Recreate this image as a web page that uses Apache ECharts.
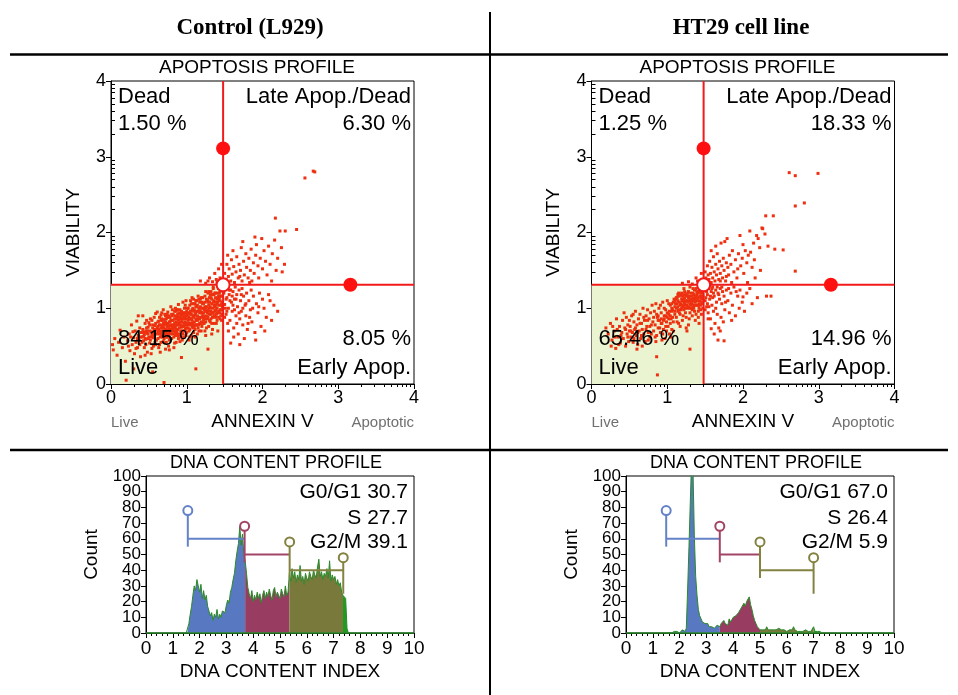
<!DOCTYPE html>
<html><head><meta charset="utf-8">
<script src="https://cdn.jsdelivr.net/npm/echarts@6/dist/echarts.min.js"></script>
<style>html,body{margin:0;padding:0;background:#fff}#chart{width:958px;height:695px}</style>
</head><body><div id="chart"></div>
<script>
// ---------------- data ----------------
const panelTitles = ['Control (L929)', 'HT29 cell line'];
const scatterTicks = [0, 1, 2, 3, 4];
const dnaTicks = [0, 1, 2, 3, 4, 5, 6, 7, 8, 9, 10];
const countTicks = [0, 10, 20, 30, 40, 50, 60, 70, 80, 90, 100];

const quadrantNames = ['Dead', 'Late Apop./Dead', 'Live', 'Early Apop.'];
const controlQuadrantPct = [1.50, 6.30, 84.15, 8.05];
const ht29QuadrantPct = [1.25, 18.33, 65.46, 14.96];
const quadrantGate = [1.48, 1.31];      // [annexin, viability]
const gateHandles = [3.11, 3.16];       // [viability of handle on vertical, annexin of handle on horizontal]

const phaseNames = ['G0/G1', 'S', 'G2/M'];
const controlPhasePct = [30.7, 27.7, 39.1];
const ht29PhasePct = [67.0, 26.4, 5.9];
const controlDnaGates = [1.56, 3.68, 5.36, 7.36];
const ht29DnaGates = [1.50, 3.50, 5.00, 7.00];
const gateMarkerCounts = [78, 68, 58, 48];
const gateStemBottoms = [55, 45, 35, 25];
const gateBarCounts = [60, 50, 40];

const dnaBinStart = 1.5, dnaBinWidth = 0.05;
const controlDnaCounts = [
  0,1,6,12,17,24,30,27,34,30,
  26,31,22,27,21,24,17,14,11,13,
  8,12,10,15,9,12,10,14,15,13,
  18,21,19,26,29,34,38,46,52,57,
  68,56,63,50,46,38,29,25,22,27,
  20,24,21,26,22,25,19,24,27,22,
  26,23,28,24,21,27,29,23,26,24,
  22,28,25,23,30,24,26,38,33,41,
  35,39,32,37,34,43,33,36,31,38,
  35,33,39,36,34,40,37,35,42,47,
  36,39,34,38,36,41,35,46,33,37,
  34,36,31,34,30,32,26,24,25,22,
  3,0
];
const ht29DnaCounts = [
  0,0,0,1,0,1,1,0,1,1,
  0,1,2,1,1,3,28,55,84,112,
  104,62,36,24,15,11,9,7,8,6,
  5,6,4,5,4,5,3,4,5,6,
  4,6,5,8,6,7,5,9,7,8,
  10,9,11,10,13,12,16,15,19,17,
  20,19,23,18,15,11,8,6,4,3,
  2,3,2,3,2,4,2,3,2,3,
  2,3,2,2,3,2,2,3,2,2,
  1,2,2,3,2,4,2,2,1,2,
  1,2,1,1,2,1,1,1,1,2,
  4,1,1,1,1,1,0
];

// [annexin, viability] events
const controlEvents = [
 [0.02,0.52],[0.03,0.45],[0.05,0.60],[0.08,0.38],[0.10,0.55],[0.12,0.71],[0.15,0.48],[0.17,0.62],[0.19,0.30],[0.20,0.05],
 [0.22,0.57],[0.24,0.66],[0.25,0.44],[0.27,0.78],[0.28,0.52],[0.30,0.61],[0.31,0.40],[0.32,0.70],[0.33,0.55],[0.34,0.83],[0.35,0.48],[0.36,0.64],[0.37,0.58],[0.38,0.74],[0.39,0.36],[0.40,0.68],[0.26,0.62],[0.29,0.69],[0.33,0.47],[0.36,0.90],[0.38,0.52],[0.23,0.50],[0.30,0.20],[0.35,0.60],[0.39,0.62],
 [0.41,0.55],[0.42,0.72],[0.43,0.63],[0.44,0.48],[0.45,0.80],[0.46,0.59],[0.47,0.67],[0.48,0.42],[0.49,0.75],[0.50,0.62],[0.51,0.54],[0.52,0.86],[0.53,0.69],[0.54,0.47],[0.55,0.78],[0.56,0.61],[0.57,0.72],[0.58,0.55],[0.59,0.93],[0.60,0.66],[0.42,0.90],[0.44,0.65],[0.46,0.52],[0.48,0.70],[0.50,0.81],[0.52,0.58],[0.54,0.64],[0.56,0.50],[0.58,0.77],[0.60,0.58],[0.45,0.38],[0.47,0.84],[0.51,0.70],[0.53,0.40],[0.55,0.68],[0.57,0.88],[0.59,0.52],[0.43,0.57],[0.49,0.60],[0.55,0.16],
 [0.61,0.74],[0.62,0.60],[0.63,0.83],[0.64,0.52],[0.65,0.70],[0.66,0.91],[0.67,0.64],[0.68,0.77],[0.69,0.56],[0.70,0.85],[0.71,0.68],[0.72,0.46],[0.73,0.79],[0.74,0.62],[0.75,0.95],[0.76,0.72],[0.77,0.58],[0.78,0.88],[0.79,0.66],[0.80,0.76],[0.61,0.95],[0.62,0.68],[0.63,0.48],[0.64,0.78],[0.65,0.62],[0.66,0.55],[0.67,0.86],[0.68,0.70],[0.69,0.98],[0.70,0.60],[0.71,0.80],[0.72,0.72],[0.73,0.55],[0.74,0.88],[0.75,0.66],[0.76,0.50],[0.77,0.82],[0.78,0.70],[0.79,1.02],[0.80,0.60],[0.62,0.76],[0.64,0.66],[0.66,0.74],[0.68,0.62],[0.70,0.74],[0.72,0.90],[0.74,0.76],[0.76,0.64],[0.78,0.78],[0.80,0.92],[0.65,0.42],[0.70,0.02],[0.73,0.68],[0.77,0.45],[0.79,0.72],
 [0.81,0.70],[0.82,0.84],[0.83,0.62],[0.84,0.96],[0.85,0.76],[0.86,0.55],[0.87,0.88],[0.88,0.72],[0.89,1.05],[0.90,0.80],[0.91,0.65],[0.92,0.93],[0.93,0.75],[0.94,0.58],[0.95,0.86],[0.96,0.70],[0.97,1.00],[0.98,0.82],[0.99,0.64],[1.00,0.90],[0.81,0.90],[0.82,0.66],[0.83,0.78],[0.84,0.54],[0.85,1.00],[0.86,0.82],[0.87,0.68],[0.88,0.92],[0.89,0.60],[0.90,0.74],[0.91,0.98],[0.92,0.78],[0.93,0.86],[0.94,0.70],[0.95,1.08],[0.96,0.62],[0.97,0.78],[0.98,0.94],[0.99,0.74],[1.00,0.68],[0.82,0.76],[0.84,0.86],[0.86,0.72],[0.88,0.80],[0.90,0.88],[0.92,0.70],[0.94,0.82],[0.96,0.92],[0.98,0.72],[1.00,0.80],[0.83,0.48],[0.87,0.98],[0.91,0.56],[0.95,0.66],[0.99,1.10],[0.93,0.35],[0.97,0.88],[0.85,0.64],[0.89,0.84],[0.94,0.94],
 [1.01,0.78],[1.02,0.94],[1.03,0.70],[1.04,1.04],[1.05,0.86],[1.06,0.64],[1.07,0.98],[1.08,0.80],[1.09,1.12],[1.10,0.90],[1.11,0.72],[1.12,1.02],[1.13,0.84],[1.14,0.66],[1.15,0.96],[1.16,0.78],[1.17,1.08],[1.18,0.88],[1.19,0.70],[1.20,1.00],[1.01,1.00],[1.02,0.74],[1.03,0.88],[1.04,0.62],[1.05,1.10],[1.06,0.92],[1.07,0.76],[1.08,1.00],[1.09,0.68],[1.10,0.82],[1.11,1.06],[1.12,0.86],[1.13,0.96],[1.14,0.78],[1.15,1.16],[1.16,0.70],[1.17,0.86],[1.18,1.02],[1.19,0.82],[1.20,0.76],[1.02,0.84],[1.04,0.94],[1.06,0.80],[1.08,0.90],[1.10,0.98],[1.12,0.78],[1.14,0.90],[1.16,1.00],[1.18,0.80],[1.20,0.88],[1.03,0.58],[1.07,1.14],[1.11,0.62],[1.15,0.74],[1.19,1.14],[1.05,0.96],[1.09,0.88],[1.13,1.10],[1.17,0.94],[1.28,0.46],
 [1.21,0.90],[1.22,1.06],[1.23,0.80],[1.24,1.16],[1.25,0.96],[1.26,0.74],[1.27,1.10],[1.28,0.88],[1.29,1.22],[1.30,1.00],[1.31,0.82],[1.32,1.14],[1.33,0.94],[1.34,0.72],[1.35,1.08],[1.36,0.90],[1.37,1.20],[1.38,0.98],[1.39,0.80],[1.40,1.12],[1.41,0.94],[1.42,1.26],[1.43,1.04],[1.44,0.86],[1.45,1.16],[1.46,0.98],[1.47,1.08],[1.21,1.14],[1.22,0.84],[1.23,0.98],[1.24,0.70],[1.25,1.22],[1.26,1.02],[1.27,0.86],[1.28,1.08],[1.29,0.76],[1.30,0.92],[1.31,1.18],[1.32,0.96],[1.33,1.06],[1.34,0.88],[1.35,1.26],[1.36,0.80],[1.37,0.96],[1.38,1.14],[1.39,0.92],[1.40,0.84],[1.41,1.20],[1.42,0.96],[1.43,1.14],[1.44,0.98],[1.45,0.90],[1.46,1.24],[1.47,0.92],[1.22,0.94],[1.24,1.02],[1.26,0.90],[1.28,0.98],[1.30,1.08],[1.32,0.86],[1.34,1.00],[1.36,1.10],[1.38,0.88],[1.40,1.00],[1.42,1.10],[1.44,1.22],[1.46,0.84],[1.25,0.64],[1.33,0.66],[1.41,0.70],[1.47,1.28],[1.35,1.28],[1.12,0.20],
 [1.18,1.36],[1.25,1.33],[1.30,1.40],[1.34,1.35],[1.37,1.46],[1.40,1.34],[1.42,1.52],[1.44,1.40],[1.46,1.58],[1.45,1.36],[1.39,1.38],[1.28,1.36],
 [1.49,1.20],[1.50,1.05],[1.51,1.26],[1.52,0.92],[1.53,1.14],[1.54,1.28],[1.55,1.00],[1.56,1.18],[1.57,0.84],[1.58,1.24],[1.59,1.08],[1.60,0.96],[1.61,1.22],[1.62,0.74],[1.63,1.12],[1.64,1.28],[1.65,0.90],[1.66,1.18],[1.67,1.02],[1.68,0.66],[1.69,1.24],[1.70,0.86],[1.71,1.10],[1.72,0.96],[1.73,1.26],[1.74,0.78],[1.75,1.16],[1.76,0.60],[1.77,1.04],[1.78,0.90],[1.79,1.20],[1.80,0.72],[1.82,1.10],[1.84,0.98],[1.85,1.24],[1.86,0.82],[1.88,1.16],[1.90,0.68],[1.92,1.06],[1.94,0.94],[1.96,1.20],[1.98,0.76],[2.00,1.12],[2.02,1.00],[2.05,0.88],[2.08,1.18],[2.12,0.84],[2.15,1.04],[2.20,0.96],[1.55,0.70],[1.58,0.54],[1.62,0.62],[1.70,0.52],[1.50,0.88],[1.52,1.12],[1.54,0.80],[1.56,1.24],[1.60,1.16],[1.63,0.98],[1.66,0.80],[1.72,1.18],[1.78,1.06],[1.83,0.88],[1.87,1.00],[1.91,0.58],[1.95,1.02],[2.03,0.70],[2.10,1.10],[1.51,1.00],[1.53,0.96],[1.57,1.10],[1.61,1.04],[1.65,1.12],[1.69,0.94],[1.74,1.00],[1.81,0.80],
 [1.49,1.34],[1.50,1.46],[1.52,1.38],[1.53,1.58],[1.55,1.42],[1.56,1.52],[1.58,1.36],[1.59,1.64],[1.60,1.45],[1.62,1.55],[1.63,1.34],[1.65,1.48],[1.66,1.68],[1.68,1.40],[1.69,1.58],[1.71,1.50],[1.72,1.80],[1.73,1.36],[1.75,1.62],[1.76,1.44],[1.78,1.72],[1.79,1.54],[1.81,1.40],[1.82,1.66],[1.84,1.50],[1.85,1.78],[1.86,1.36],[1.88,1.60],[1.89,1.46],[1.91,1.70],[1.92,1.84],[1.94,1.56],[1.95,1.40],[1.97,1.66],[1.99,1.92],[2.00,1.52],[2.02,1.76],[2.04,1.62],[2.06,1.44],[2.08,1.82],[2.10,1.58],[2.13,1.72],[2.16,1.90],[2.18,1.50],[2.20,1.66],[2.23,2.02],[2.25,1.80],[2.30,2.02],[2.17,2.19],[2.45,2.04],[2.29,1.58],[2.56,2.72],[2.67,2.81],[2.69,2.80],[1.54,1.70],[1.61,1.76],[1.70,1.42],[1.74,1.88],[1.83,1.34],[1.90,1.94],[2.12,1.36],[2.26,1.48]
];
const controlDenseEvents = [
 [0.62,0.82],[0.63,0.72],[0.64,0.88],[0.65,0.78],[0.66,0.68],[0.67,0.94],[0.68,0.84],[0.69,0.74],[0.70,0.66],[0.71,0.92],
 [0.72,0.82],[0.73,0.62],[0.74,0.70],[0.75,0.80],[0.76,0.90],[0.77,0.68],[0.78,0.60],[0.79,0.84],[0.80,0.70],[0.81,0.98],
 [0.82,0.92],[0.83,0.70],[0.84,0.80],[0.85,0.68],[0.86,0.96],[0.87,0.78],[0.88,0.64],[0.89,0.92],[0.90,0.66],[0.91,0.86],
 [0.92,0.62],[0.93,0.96],[0.94,0.76],[0.95,0.92],[0.96,0.80],[0.97,0.70],[0.98,1.04],[0.99,0.90],[1.00,0.74],[1.01,0.86],
 [1.02,1.00],[1.03,0.80],[1.04,0.72],[1.05,0.92],[1.06,1.06],[1.07,0.84],[1.08,0.74],[1.09,0.96],[1.10,0.76],[1.11,0.92],
 [1.12,1.10],[1.13,0.78],[1.14,1.04],[1.15,0.86],[1.16,0.88],[1.17,0.80],[1.18,1.12],[1.19,0.94],[1.20,1.08],[1.21,0.80],
 [1.22,1.00],[1.23,0.88],[1.24,1.08],[1.25,0.82],[1.26,1.12],[1.27,0.94],[1.28,1.20],[1.29,0.96],[1.30,0.84],[1.31,1.02],
 [1.32,1.22],[1.33,0.80],[1.34,1.18],[1.35,0.94],[1.36,1.04],[1.37,0.90],[1.38,1.20],[1.39,1.04],[1.40,0.94],[1.41,1.08],
 [1.42,0.88],[1.43,1.20],[1.44,1.10],[1.45,1.04],[1.46,1.16],[1.47,1.02],[0.66,0.84],[0.70,0.78],[0.74,0.92],[0.78,0.82],
 [0.82,0.72],[0.86,0.86],[0.90,0.94],[0.94,0.86],[0.98,0.86],[1.02,0.80],[1.06,0.86],[1.10,1.06],[1.14,0.84],[1.18,0.96],
 [1.22,0.90],[1.26,0.96],[1.30,1.14],[1.34,0.94],[1.38,1.08],[1.42,1.16],[1.46,1.06],[0.72,0.64],[0.76,0.76],[0.80,0.84],
 [0.84,0.74],[0.88,0.98],[0.92,0.82],[0.96,0.76],[1.00,0.96],[1.04,0.86],[1.08,1.06],[1.12,0.94],[1.16,1.12],[1.20,0.94],
 [1.24,0.86],[1.28,1.10],[1.32,0.92],[1.36,1.18],[1.40,1.06],[1.44,0.94],[0.55,0.74],[0.57,0.64],[0.59,0.80],[0.53,0.62],
 [0.51,0.78],[0.49,0.66],[0.47,0.74],[0.45,0.60],[0.43,0.68],[0.41,0.62],[0.58,0.68],[0.54,0.84],[0.46,0.70],[0.60,0.72],
 [1.09,0.78],[1.13,1.02],[1.17,1.00],[1.21,1.06],[1.25,1.00],[1.29,1.04],[1.33,1.12],[1.37,1.02],[1.41,1.14],[1.45,0.98],
 [0.97,0.94],[1.01,0.92],[1.05,0.78],[0.93,0.90],[0.89,0.78],[0.85,0.90],[0.81,0.78],[0.77,0.88],[0.73,0.86],[0.69,0.80]
];

const ht29Events = [
 [0.19,0.74],[0.22,0.66],[0.25,0.80],[0.27,0.58],[0.30,0.70],[0.32,0.47],[0.33,0.86],[0.35,0.62],[0.37,0.76],[0.38,0.54],[0.40,0.68],[0.41,0.84],[0.42,0.60],[0.44,0.74],[0.45,0.50],[0.46,0.88],[0.47,0.66],[0.48,0.78],[0.49,0.56],[0.50,0.70],[0.28,0.76],[0.34,0.72],[0.36,0.52],[0.39,0.64],[0.43,0.94],[0.45,0.72],[0.48,0.62],[0.50,0.84],[0.31,0.62],[0.26,0.50],
 [0.51,0.76],[0.52,0.62],[0.53,0.90],[0.54,0.68],[0.55,0.55],[0.56,0.82],[0.57,0.72],[0.58,0.96],[0.59,0.64],[0.60,0.78],[0.61,0.52],[0.62,0.86],[0.63,0.70],[0.64,0.92],[0.65,0.60],[0.66,0.80],[0.67,0.72],[0.68,1.00],[0.69,0.66],[0.70,0.84],[0.71,0.56],[0.72,0.90],[0.73,0.76],[0.74,0.98],[0.75,0.68],[0.76,0.86],[0.77,0.62],[0.78,0.94],[0.79,0.78],[0.80,1.04],[0.52,0.70],[0.55,0.92],[0.58,0.74],[0.61,0.68],[0.64,0.80],[0.66,0.64],[0.69,0.88],[0.72,0.72],[0.74,0.84],[0.77,0.76],[0.79,0.66],[0.60,0.46],[0.67,0.50],[0.75,0.58],[0.56,0.60],
 [0.81,0.82],[0.82,0.70],[0.83,0.96],[0.84,0.78],[0.85,1.06],[0.86,0.64],[0.86,0.36],[0.87,0.88],[0.87,0.12],[0.88,0.74],[0.89,1.00],[0.90,0.84],[0.91,0.68],[0.92,0.94],[0.93,0.80],[0.94,1.08],[0.95,0.72],[0.96,0.90],[0.97,0.60],[0.98,0.98],[0.99,0.82],[1.00,1.10],[1.01,0.76],[1.02,0.92],[1.03,0.66],[1.04,1.04],[1.05,0.86],[1.06,0.72],[1.07,0.98],[1.08,0.82],[1.09,1.12],[1.10,0.92],[0.82,0.88],[0.84,0.62],[0.86,0.92],[0.88,0.84],[0.90,0.74],[0.92,0.86],[0.94,0.66],[0.96,1.00],[0.98,0.76],[1.00,0.88],[1.02,1.06],[1.04,0.80],[1.06,0.96],[1.08,0.70],[1.10,1.02],[0.85,0.56],[0.91,1.04],[0.95,0.84],[0.99,0.70],[1.03,0.96],[1.07,0.88],[1.05,0.62],[0.93,0.58],
 [1.11,1.06],[1.12,0.88],[1.13,1.14],[1.14,0.96],[1.15,0.80],[1.16,1.08],[1.17,0.92],[1.18,1.18],[1.19,1.00],[1.20,0.84],[1.21,1.12],[1.22,0.98],[1.23,1.22],[1.24,1.04],[1.25,0.88],[1.26,1.16],[1.27,1.00],[1.28,0.78],[1.29,1.10],[1.30,0.94],[1.31,1.20],[1.32,1.06],[1.33,0.90],[1.34,1.14],[1.35,1.00],[1.36,1.24],[1.37,1.08],[1.38,0.92],[1.39,1.18],[1.40,1.04],[1.41,0.96],[1.42,1.22],[1.43,1.10],[1.44,0.98],[1.45,1.16],[1.46,1.06],[1.47,1.26],[1.12,1.00],[1.14,1.10],[1.16,0.94],[1.18,1.06],[1.20,1.16],[1.22,1.08],[1.24,0.94],[1.26,1.04],[1.28,1.14],[1.30,1.06],[1.32,1.16],[1.34,1.02],[1.36,1.12],[1.38,1.04],[1.40,1.14],[1.42,1.06],[1.44,1.20],[1.46,1.12],[1.13,0.82],[1.17,0.76],[1.21,0.90],[1.25,0.74],[1.29,0.86],[1.33,0.98],[1.37,0.84],[1.41,0.88],[1.45,0.92],[1.47,1.00],[1.15,1.20],[1.19,1.12],[1.23,1.14],[1.27,1.20],[1.31,1.12],[1.35,1.18],[1.39,1.10],[1.43,1.24],[1.46,1.20],[1.20,1.04],[1.24,1.10],[1.28,1.02],[1.32,1.00],[1.36,0.96],[1.40,1.20],[1.44,1.04],[1.22,1.26],[1.30,1.28],[1.38,1.26],[1.34,1.26],[1.26,0.70],[1.30,0.46],[1.42,0.80],
 [1.20,1.33],[1.28,1.35],[1.33,1.32],[1.38,1.40],[1.42,1.34],[1.45,1.46],[1.46,1.38],[1.40,1.36],
 [1.49,1.24],[1.50,1.10],[1.51,1.28],[1.52,1.02],[1.53,1.18],[1.54,0.94],[1.55,1.26],[1.56,1.12],[1.57,0.86],[1.58,1.22],[1.59,1.04],[1.60,1.28],[1.61,0.96],[1.62,1.16],[1.63,0.80],[1.64,1.24],[1.65,1.08],[1.66,0.92],[1.67,1.20],[1.68,0.74],[1.69,1.12],[1.70,1.26],[1.71,0.88],[1.72,1.06],[1.73,1.22],[1.74,0.82],[1.75,1.16],[1.76,0.98],[1.78,1.24],[1.80,1.10],[1.82,0.94],[1.84,1.20],[1.86,1.04],[1.88,1.28],[1.90,0.90],[1.93,1.16],[1.96,1.24],[1.99,1.08],[2.00,1.15],[2.05,1.20],[2.09,1.26],[2.19,1.14],[2.31,1.16],[1.58,0.73],[1.67,0.58],[1.75,0.57],[1.62,0.66],[1.70,0.70],[1.54,0.86],[1.50,0.98],[1.52,1.22],[1.56,1.30],[1.60,1.14],[1.64,1.00],[1.68,1.18],[1.72,1.28],[1.77,1.08],[1.81,1.26],[1.85,0.84],[1.91,1.22],[1.95,1.00],[2.02,0.96],[2.12,1.06],[1.53,1.06],[1.57,1.16],[1.61,1.20],[1.66,1.28],[1.51,1.14],[1.55,1.02],[1.59,1.26],[2.37,1.16],
 [1.49,1.36],[1.50,1.48],[1.51,1.40],[1.52,1.34],[1.53,1.56],[1.54,1.44],[1.55,1.38],[1.56,1.62],[1.57,1.46],[1.58,1.34],[1.59,1.54],[1.60,1.40],[1.61,1.68],[1.62,1.48],[1.63,1.36],[1.64,1.58],[1.65,1.44],[1.66,1.72],[1.67,1.52],[1.68,1.38],[1.69,1.62],[1.70,1.46],[1.71,1.86],[1.72,1.56],[1.73,1.40],[1.74,1.66],[1.75,1.50],[1.76,1.88],[1.77,1.36],[1.78,1.60],[1.79,1.92],[1.80,1.54],[1.81,1.44],[1.82,1.70],[1.84,1.58],[1.86,1.76],[1.88,1.48],[1.90,1.64],[1.92,1.40],[1.94,1.72],[1.96,1.96],[1.97,1.56],[1.99,1.66],[2.01,1.46],[2.03,1.76],[2.05,1.60],[2.07,1.70],[2.09,2.02],[2.10,1.74],[2.12,1.54],[2.14,1.86],[2.16,1.40],[2.18,1.96],[2.20,1.92],[2.22,1.80],[2.25,2.06],[2.29,1.98],[2.33,1.82],[2.40,2.22],[2.42,1.78],[2.30,2.22],[2.53,1.77],[2.61,2.79],[2.69,2.75],[2.69,2.35],[2.69,1.49],[2.81,2.39],[2.99,2.78],[2.26,2.05],[1.85,1.34],[1.93,1.52],[2.00,1.84],[2.06,1.34],[2.15,1.64],[2.23,1.50],[1.58,1.76],[1.64,1.82],[1.70,1.36],[1.78,1.42]
];
const ht29DenseEvents = [
 [1.06,1.00],[1.08,1.08],[1.10,0.96],[1.12,1.14],[1.14,1.02],[1.16,1.16],[1.18,0.98],[1.20,1.10],[1.22,1.18],[1.24,1.00],
 [1.26,1.10],[1.28,1.22],[1.30,1.00],[1.32,1.10],[1.34,1.20],[1.36,1.04],[1.38,1.16],[1.40,1.10],[1.42,1.00],[1.44,1.14],
 [1.46,1.24],[1.13,1.06],[1.17,1.04],[1.21,1.02],[1.25,1.18],[1.29,1.16],[1.33,1.06],[1.37,1.14],[1.41,1.04],[1.45,1.08],
 [1.47,1.16],[1.11,1.12],[1.15,0.98],[1.19,1.20],[1.23,1.06],[1.27,1.08],[1.31,1.04],[1.35,1.10],[1.39,1.22],[1.43,1.16],
 [0.96,0.86],[1.00,0.94],[1.04,0.90],[0.92,0.80],[0.88,0.90],[1.02,0.86],[0.98,0.90],[1.06,1.06],[1.10,1.10],[1.14,1.18]
];

// ---------------- layout / style ----------------
const FONT = "'Liberation Sans', Arial, Helvetica, sans-serif";
const BLACK = '#000';
const RED = '#f21a1a';
const DOT = '#ee3010';
const LIVE_FILL = '#ebf4d0';
const scatterGrids = [
  { left: 111, top: 81, width: 303, height: 303 },
  { left: 591.5, top: 81, width: 303, height: 303 }
];
const histGrids = [
  { left: 146, top: 476, width: 268, height: 157 },
  { left: 626, top: 476, width: 268, height: 157 }
];
const gateColors = ['#6482c8', '#a24466', '#838241', '#838241'];
const phaseFills = ['#5878c2', '#983d61', '#7a793c', '#1f9b1f'];
const histLine = '#2a8a2a';

const logMinor = [];
for (let d = scatterTicks[0]; d < scatterTicks[scatterTicks.length - 1]; d++) {
  for (let k = 2; k <= 9; k++) logMinor.push(d + Math.log10(k));
}

// ---------------- axes ----------------
const xAxes = [], yAxes = [];
const gridsOpt = [];
scatterGrids.concat(histGrids).forEach(g => gridsOpt.push(Object.assign({
  show: true, borderColor: BLACK, borderWidth: 1, containLabel: false
}, g)));

const baseAxis = {
  type: 'value',
  axisLine: { show: true, onZero: false, lineStyle: { color: BLACK, width: 1 } },
  axisTick: { show: true, length: 5, lineStyle: { color: BLACK, width: 1 } },
  splitLine: { show: false },
  nameLocation: 'middle',
  nameTextStyle: { fontSize: 19, color: BLACK, fontFamily: FONT }
};

scatterGrids.forEach((g, i) => {
  xAxes.push(Object.assign({}, baseAxis, {
    gridIndex: i, position: 'bottom', min: scatterTicks[0], max: scatterTicks[scatterTicks.length - 1], interval: 1,
    name: 'ANNEXIN V', nameGap: 28,
    axisLabel: { fontSize: 18, color: BLACK, margin: 5, fontFamily: FONT, showMinLabel: true, showMaxLabel: true, hideOverlap: false }
  }));
  xAxes.push({
    gridIndex: i, type: 'value', position: 'bottom', min: scatterTicks[0], max: scatterTicks[scatterTicks.length - 1],
    axisLine: { show: false, onZero: false }, axisLabel: { show: false }, splitLine: { show: false },
    axisTick: { show: true, length: 3, customValues: logMinor, lineStyle: { color: BLACK } }
  });
  yAxes.push(Object.assign({}, baseAxis, {
    gridIndex: i, position: 'left', min: scatterTicks[0], max: scatterTicks[scatterTicks.length - 1], interval: 1,
    name: 'VIABILITY', nameGap: 28,
    axisLabel: { fontSize: 18, color: BLACK, margin: 5, fontFamily: FONT, showMinLabel: true, showMaxLabel: true, hideOverlap: false }
  }));
  yAxes.push({
    gridIndex: i, type: 'value', position: 'left', min: scatterTicks[0], max: scatterTicks[scatterTicks.length - 1],
    axisLine: { show: false, onZero: false }, axisLabel: { show: false }, splitLine: { show: false },
    axisTick: { show: true, inside: true, length: 4, customValues: logMinor, lineStyle: { color: BLACK } }
  });
});
const countLabelsEven = countTicks.filter((v, k) => k % 2 === 0);
const countLabelsOdd = countTicks.filter((v, k) => k % 2 === 1);
const histYIndex = [];
histGrids.forEach((g, i) => {
  xAxes.push(Object.assign({}, baseAxis, {
    gridIndex: 2 + i, position: 'bottom', min: dnaTicks[0], max: dnaTicks[dnaTicks.length - 1], interval: 1,
    name: 'DNA CONTENT INDEX', nameGap: 29,
    minorTick: { show: true, splitNumber: 5, length: 3, lineStyle: { color: BLACK } },
    axisLabel: { fontSize: 19, color: BLACK, margin: 6, fontFamily: FONT, showMinLabel: true, showMaxLabel: true, hideOverlap: false }
  }));
  histYIndex.push(yAxes.length);
  yAxes.push(Object.assign({}, baseAxis, {
    gridIndex: 2 + i, position: 'left', min: countTicks[0], max: countTicks[countTicks.length - 1], interval: 10,
    name: 'Count', nameGap: 45,
    axisLabel: { show: false }
  }));
  [countLabelsEven, countLabelsOdd].forEach(vals => {
    yAxes.push({
      gridIndex: 2 + i, type: 'value', position: 'left', min: countTicks[0], max: countTicks[countTicks.length - 1],
      axisLine: { show: false, onZero: false }, axisTick: { show: false }, splitLine: { show: false },
      axisLabel: { show: true, customValues: vals, fontSize: 17, color: BLACK, margin: 5, fontFamily: FONT,
        showMinLabel: true, showMaxLabel: true, hideOverlap: false }
    });
  });
});

// ---------------- series ----------------
const series = [];
[controlEvents.concat(controlDenseEvents), ht29Events.concat(ht29DenseEvents)].forEach((events, i) => {
  const xi = i * 2, yi = i * 2;
  const [qx, qy] = quadrantGate;
  series.push({ type: 'line', xAxisIndex: xi, yAxisIndex: yi, data: [[0, qy], [qx, qy]], symbol: 'none',
    lineStyle: { width: 0 }, areaStyle: { color: LIVE_FILL, opacity: 1 }, z: 1, silent: true });
  series.push({ type: 'scatter', xAxisIndex: xi, yAxisIndex: yi, data: events, symbol: 'rect', symbolSize: 3,
    itemStyle: { color: DOT, opacity: 1 }, z: 2, silent: true, large: false });
  series.push({ type: 'line', xAxisIndex: xi, yAxisIndex: yi, data: [[qx, scatterTicks[0]], [qx, scatterTicks[4]]],
    symbol: 'none', lineStyle: { color: RED, width: 2 }, z: 3, silent: true });
  series.push({ type: 'line', xAxisIndex: xi, yAxisIndex: yi, data: [[scatterTicks[0], qy], [scatterTicks[4], qy]],
    symbol: 'none', lineStyle: { color: RED, width: 2 }, z: 3, silent: true });
  series.push({ type: 'scatter', xAxisIndex: xi, yAxisIndex: yi, data: [[qx, gateHandles[0]], [gateHandles[1], qy]],
    symbol: 'circle', symbolSize: 14, itemStyle: { color: '#ff1010', opacity: 1 }, z: 4, silent: true });
  series.push({ type: 'scatter', xAxisIndex: xi, yAxisIndex: yi, data: [[qx, qy]],
    symbol: 'circle', symbolSize: 13, itemStyle: { color: '#fff', borderColor: RED, borderWidth: 2, opacity: 1 }, z: 5, silent: true });
});

[[controlDnaCounts, controlDnaGates], [ht29DnaCounts, ht29DnaGates]].forEach(([counts, gates], i) => {
  const xi = 4 + i, yi = histYIndex[i];
  const pts = counts.map((c, k) => [+(dnaBinStart + k * dnaBinWidth).toFixed(3), c]);
  const gateIdx = gates.map(g => Math.round((g - dnaBinStart) / dnaBinWidth));
  const bounds = [0].concat(gateIdx).concat([pts.length - 1]);
  const fills = [phaseFills[3]].concat(phaseFills);
  for (let s = 0; s < bounds.length - 1; s++) {
    const seg = pts.slice(bounds[s], bounds[s + 1] + 1);
    if (seg.length < 2) continue;
    series.push({ type: 'line', xAxisIndex: xi, yAxisIndex: yi, data: seg, symbol: 'none',
      lineStyle: { width: 0 }, areaStyle: { color: fills[s], opacity: 1 }, z: 2, silent: true });
  }
  series.push({ type: 'line', xAxisIndex: xi, yAxisIndex: yi, data: pts, symbol: 'none',
    lineStyle: { color: histLine, width: 1 }, z: 3, silent: true,
    markLine: { silent: true, symbol: 'none', label: { show: false },
      lineStyle: { color: histLine, width: 1.5, type: 'solid' }, data: [{ yAxis: 0 }] } });
  gates.forEach((g, k) => {
    series.push({ type: 'line', xAxisIndex: xi, yAxisIndex: yi, data: [[g, gateStemBottoms[k]], [g, gateMarkerCounts[k]]],
      symbol: 'none', lineStyle: { color: gateColors[k], width: 2 }, z: 5, silent: true });
    if (k < gates.length - 1) {
      series.push({ type: 'line', xAxisIndex: xi, yAxisIndex: yi, data: [[g, gateBarCounts[k]], [gates[k + 1], gateBarCounts[k]]],
        symbol: 'none', lineStyle: { color: gateColors[k], width: 2 }, z: 5, silent: true });
    }
  });
  series.push({ type: 'scatter', xAxisIndex: xi, yAxisIndex: yi,
    data: gates.map((g, k) => ({ value: [g, gateMarkerCounts[k]],
      itemStyle: { color: '#fff', borderColor: gateColors[k], borderWidth: 2, opacity: 1 } })),
    symbol: 'circle', symbolSize: 9, z: 6, silent: true });
});

// ---------------- graphic texts ----------------
function txt(x, y, text, size, align, extra) {
  const st = Object.assign({ text: text, font: size + 'px ' + FONT, fill: BLACK,
    align: align, verticalAlign: 'middle', textAlign: align, textVerticalAlign: 'middle' }, extra || {});
  return { type: 'text', x: x, y: y, z: 100, silent: true, style: st };
}
const graphics = [];
graphics.push({ type: 'line', silent: true, shape: { x1: 10, y1: 54.5, x2: 948, y2: 54.5 }, style: { stroke: BLACK, lineWidth: 2.5 } });
graphics.push({ type: 'line', silent: true, shape: { x1: 10, y1: 450, x2: 948, y2: 450 }, style: { stroke: BLACK, lineWidth: 2.5 } });
graphics.push({ type: 'line', silent: true, shape: { x1: 490, y1: 12, x2: 490, y2: 695 }, style: { stroke: BLACK, lineWidth: 2 } });
const headerX = [250, 741];
panelTitles.forEach((t, i) => graphics.push(txt(headerX[i], 28, t, 23, 'center',
  { font: "bold 23px 'Liberation Serif', 'Times New Roman', serif" })));

[controlQuadrantPct, ht29QuadrantPct].forEach((pct, i) => {
  const g = scatterGrids[i];
  const L = g.left + 7, R = g.left + g.width - 3;
  graphics.push(txt(g.left + g.width / 2 - 5.5, 67.7, 'APOPTOSIS PROFILE', 19, 'center'));
  graphics.push(txt(L, 96.7, quadrantNames[0], 22, 'left'));
  graphics.push(txt(L, 124.2, pct[0].toFixed(2) + ' %', 22, 'left'));
  graphics.push(txt(R, 96.7, quadrantNames[1], 22, 'right'));
  graphics.push(txt(R, 124.2, pct[1].toFixed(2) + ' %', 22, 'right'));
  graphics.push(txt(L, 339, pct[2].toFixed(2) + ' %', 22, 'left'));
  graphics.push(txt(L, 367.5, quadrantNames[2], 22, 'left'));
  graphics.push(txt(R, 339, pct[3].toFixed(2) + ' %', 22, 'right'));
  graphics.push(txt(R, 367.5, quadrantNames[3], 22, 'right'));
  graphics.push(txt(g.left, 422.5, 'Live', 15, 'left', { fill: '#707070' }));
  graphics.push(txt(g.left + g.width, 422.5, 'Apoptotic', 15, 'right', { fill: '#707070' }));
});

[controlPhasePct, ht29PhasePct].forEach((pct, i) => {
  const g = histGrids[i];
  const R = g.left + g.width - 6;
  graphics.push(txt(g.left + g.width / 2 - 4, 463.3, 'DNA CONTENT PROFILE', 18, 'center'));
  const ys = [492.5, 518.5, 542.5];
  phaseNames.forEach((n, k) => graphics.push(txt(R, ys[k], n + ' ' + pct[k].toFixed(1), 21, 'right')));
});

const chart = echarts.init(document.getElementById('chart'), null, { renderer: 'canvas' });
chart.setOption({
  animation: false,
  backgroundColor: '#fff',
  textStyle: { fontFamily: FONT },
  grid: gridsOpt,
  xAxis: xAxes,
  yAxis: yAxes,
  series: series,
  graphic: graphics
});
</script></body></html>
